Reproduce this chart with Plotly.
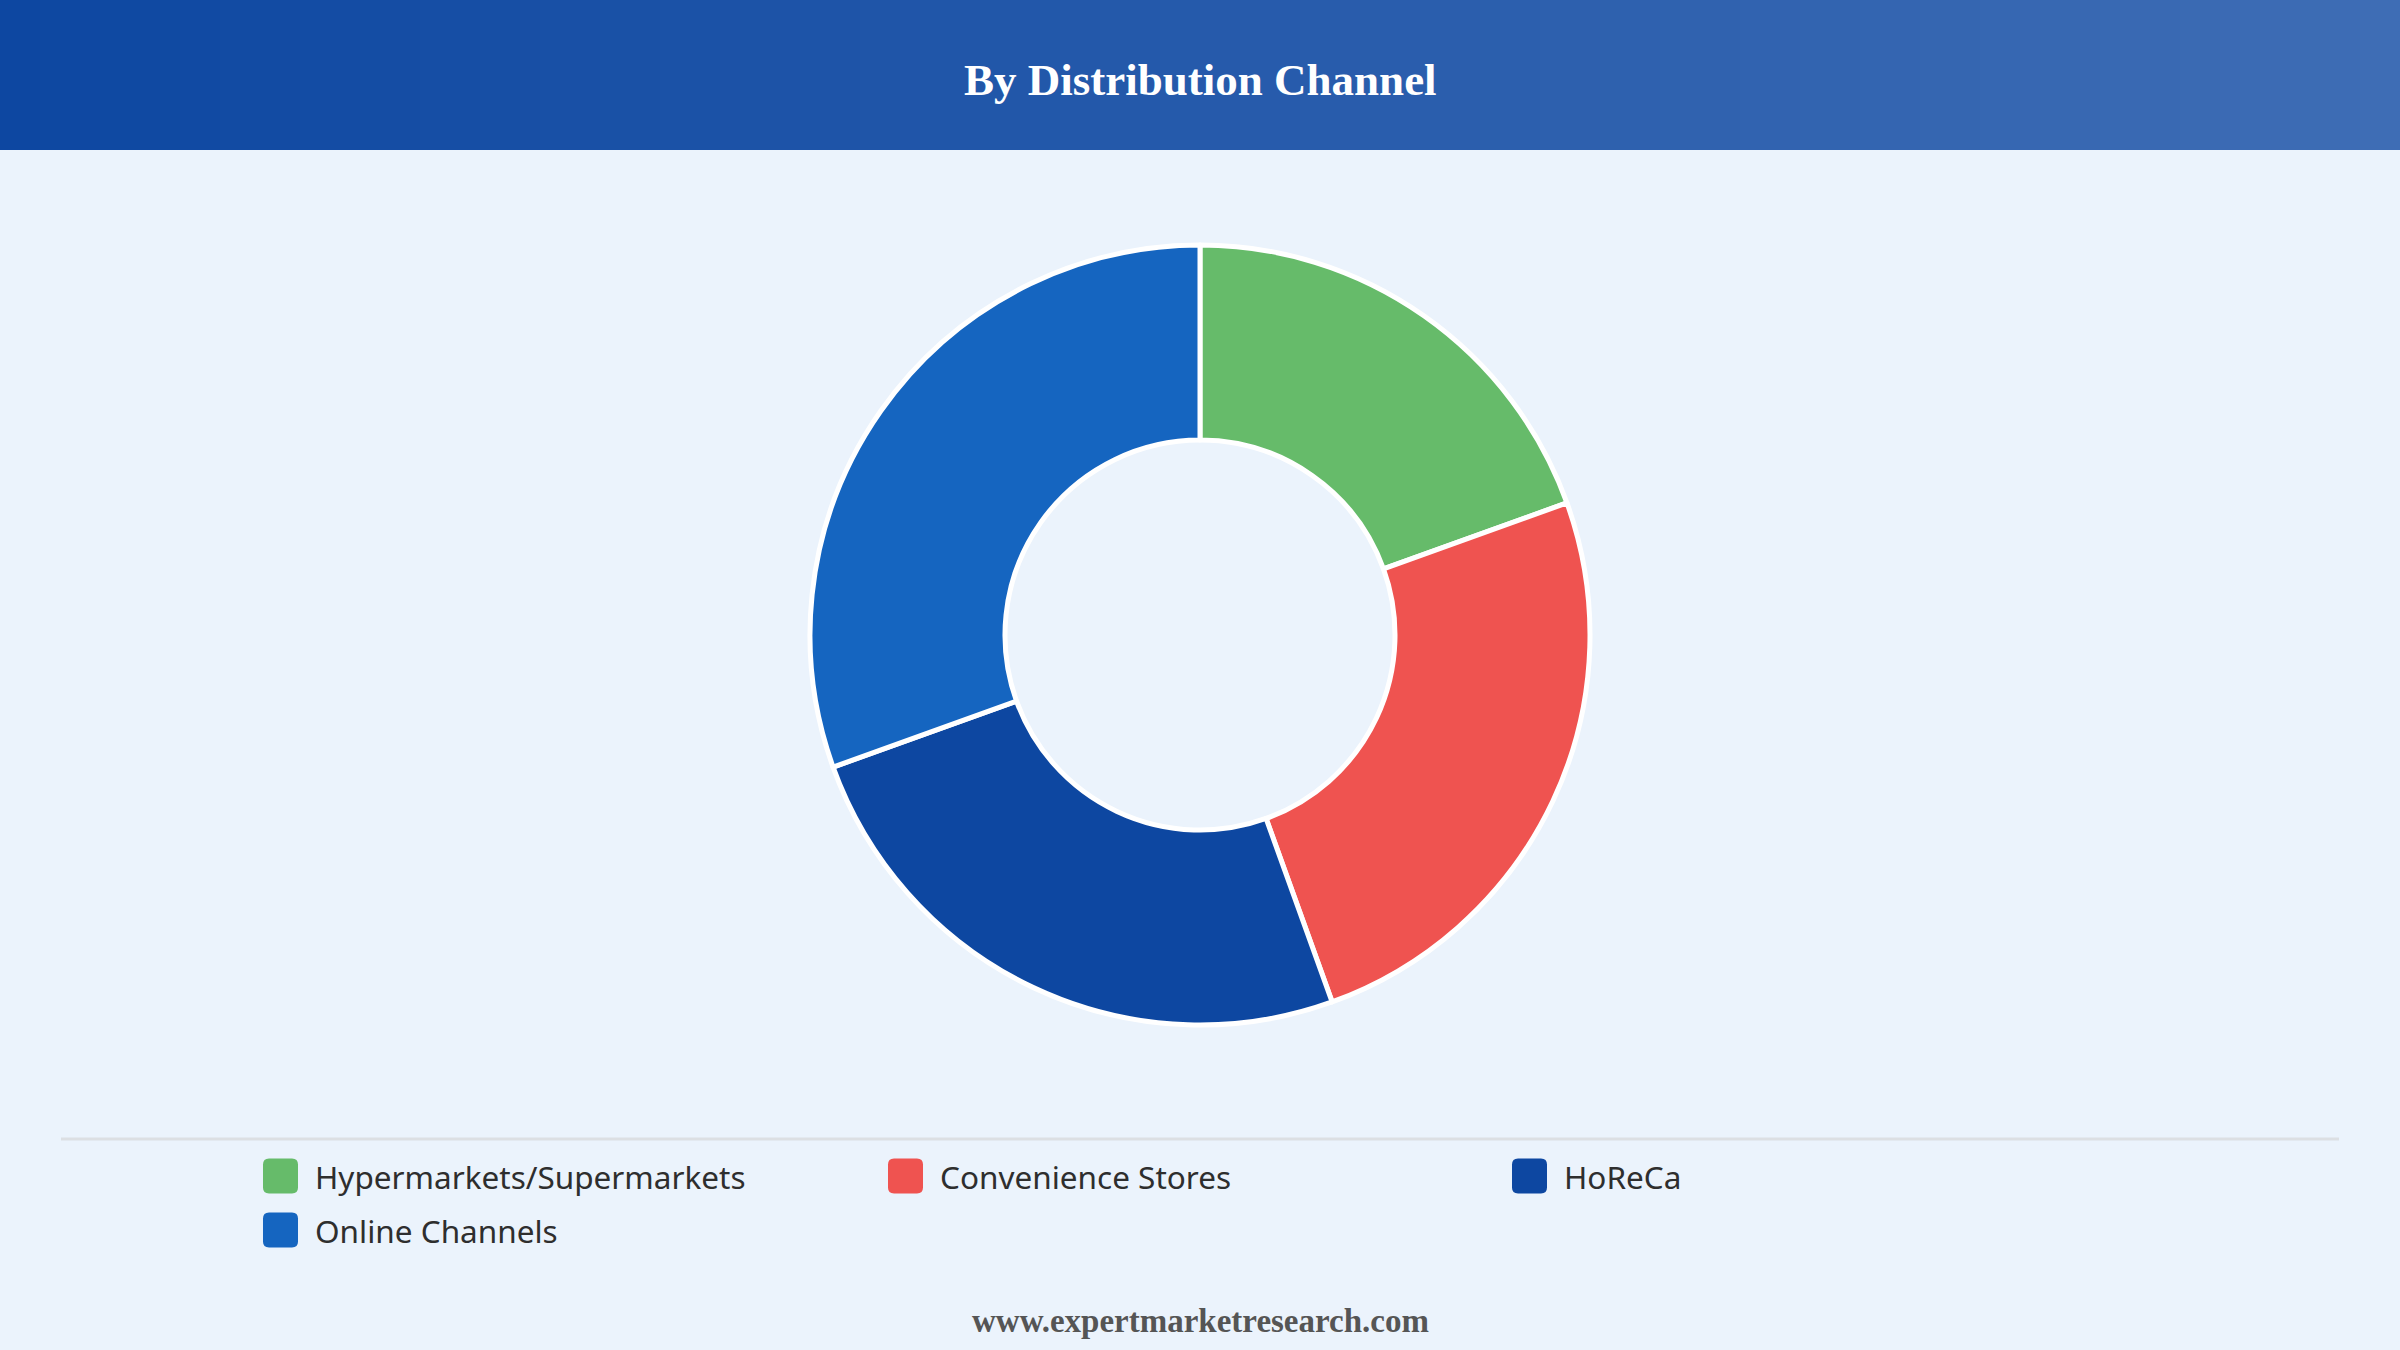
import plotly.graph_objects as go

# ---- data ----
categories = ["Hypermarkets/Supermarkets", "Convenience Stores", "HoReCa", "Online Channels"]
shares = [19.5, 25.0, 25.0, 30.5]
colors = ["#66BB6A", "#EF5350", "#0D47A1", "#1565C0"]

title_text = "By Distribution Channel"
footer_text = "www.expertmarketresearch.com"

W, H = 2400, 1350
BG = "#EBF3FC"

fig = go.Figure()

cx, cy, R = 1200, 635, 390
fig.add_trace(go.Pie(
    labels=categories,
    values=shares,
    hole=0.5,
    sort=False,
    direction="clockwise",
    rotation=0,
    textinfo="none",
    hoverinfo="label+percent",
    marker=dict(colors=colors, line=dict(color="white", width=5)),
    domain=dict(x=[(cx - R) / W, (cx + R) / W], y=[1 - (cy + R) / H, 1 - (cy - R) / H]),
    showlegend=False,
))

shapes = []
# header gradient
c0 = (13, 71, 161)
c1 = (62, 109, 181)
N = 120
for i in range(N):
    t = i / (N - 1)
    col = tuple(round(c0[k] + (c1[k] - c0[k]) * t) for k in range(3))
    shapes.append(dict(type="rect", xref="paper", yref="paper",
                       x0=i / N, x1=(i + 1) / N + 0.001, y0=1 - 150 / H, y1=1,
                       fillcolor="rgb(%d,%d,%d)" % col, line=dict(width=0), layer="below"))

# separator line
shapes.append(dict(type="line", xref="paper", yref="paper",
                   x0=61 / W, x1=2339 / W, y0=1 - 1139 / H, y1=1 - 1139 / H,
                   line=dict(color="#DCDFE3", width=3)))

annotations = [
    dict(text="<b>%s</b>" % title_text, xref="paper", yref="paper", x=0.5, y=1 - 80 / H,
         showarrow=False, font=dict(family="Liberation Serif", size=45, color="white"),
         xanchor="center", yanchor="middle"),
    dict(text="<b>%s</b>" % footer_text, xref="paper", yref="paper", x=0.5, y=1 - 1321 / H,
         showarrow=False, font=dict(family="Liberation Serif", size=33, color="#555555"),
         xanchor="center", yanchor="middle"),
]

# custom legend
col_x = [263, 888, 1512]
row_y = [1176, 1230]
sw = 35
rr = 6


def P(x, y):
    return "%f,%f" % (x / W, 1 - y / H)


for i, (lab, colr) in enumerate(zip(categories, colors)):
    r, c = divmod(i, 3)
    x0 = col_x[c]
    yc = row_y[r]
    x1 = x0 + sw
    ya, yb = yc - sw / 2, yc + sw / 2
    path = ("M " + P(x0 + rr, ya) + " L " + P(x1 - rr, ya) +
            " Q " + P(x1, ya) + " " + P(x1, ya + rr) +
            " L " + P(x1, yb - rr) + " Q " + P(x1, yb) + " " + P(x1 - rr, yb) +
            " L " + P(x0 + rr, yb) + " Q " + P(x0, yb) + " " + P(x0, yb - rr) +
            " L " + P(x0, ya + rr) + " Q " + P(x0, ya) + " " + P(x0 + rr, ya) + " Z")
    shapes.append(dict(type="path", xref="paper", yref="paper", path=path,
                       fillcolor=colr, line=dict(width=0)))
    annotations.append(dict(text=lab, xref="paper", yref="paper",
                            x=(x1 + 15) / W, y=1 - yc / H, showarrow=False,
                            xanchor="left", yanchor="middle",
                            font=dict(family="Noto Sans", size=31.5, color="#2E2E2E")))

fig.update_layout(
    width=W, height=H,
    margin=dict(l=0, r=0, t=0, b=0),
    paper_bgcolor=BG, plot_bgcolor=BG,
    shapes=shapes, annotations=annotations,
)

fig.write_html("out.html")
